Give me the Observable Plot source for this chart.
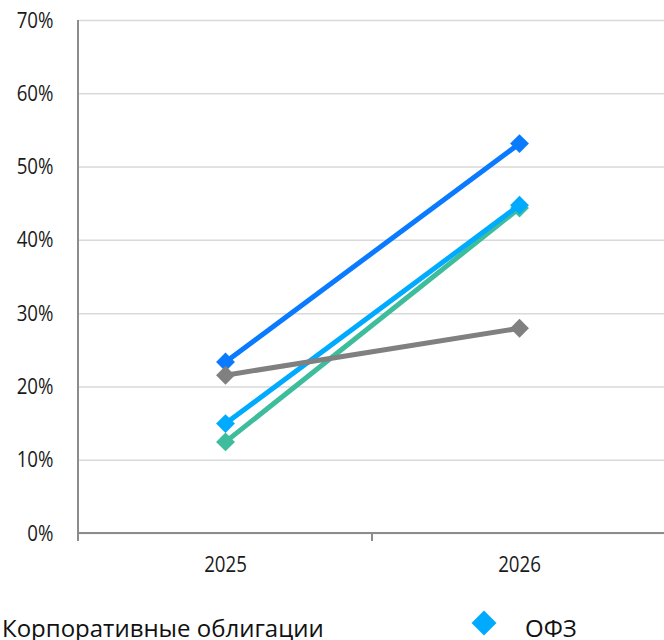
<!DOCTYPE html>
<html>
<head>
<meta charset="utf-8">
<script src="https://cdn.jsdelivr.net/npm/d3@7"></script>
<script src="https://cdn.jsdelivr.net/npm/@observablehq/plot@0.6"></script>
<style>
  html, body { margin: 0; padding: 0; background: #fff; width: 664px; height: 640px; overflow: hidden; }
  #chart, #legend { width: 664px; overflow: hidden; }
  #chart svg, #legend svg { display: block; }
</style>
</head>
<body>
<div id="chart"></div>
<div id="legend"></div>
<script>
// Categories and series (values in percent)
const years = ["2025", "2026"];
const seriesNames = ["Корпоративные облигации", "ОФЗ", "Серия 3", "Серия 4"];
const corpBonds = [12.5, 44.4];
const ofz = [15.0, 44.8];
const series3 = [23.4, 53.2];
const series4 = [21.6, 28.0];
const yTicks = [0, 10, 20, 30, 40, 50, 60, 70];

// Only the first two series appear in the visible legend row
const legendNames = ["Корпоративные облигации", "ОФЗ"];

const seriesColors = ["#3dbd9b", "#00aaff", "#0a7bff", "#808080"];

const seriesValues = [corpBonds, ofz, series3, series4];
const rows = seriesValues.flatMap((vals, i) =>
  years.map((year, j) => ({ series: seriesNames[i], year, value: vals[j] }))
);

const tickFont = '"Open Sans", "Noto Sans", sans-serif';

// Axis lines: left value axis, bottom category axis, and tick marks between categories
function axisLines(index, scales, values, dimensions) {
  const { x, y } = scales;
  const { width, marginLeft, marginRight } = dimensions;
  const y0 = y(0);
  const g = d3.create("svg:g")
    .attr("stroke", "#8c8c8c")
    .attr("stroke-width", 2)
    .attr("fill", "none");
  g.append("line")
    .attr("x1", marginLeft).attr("x2", marginLeft)
    .attr("y1", y(yTicks[yTicks.length - 1])).attr("y2", y0 + 8);
  g.append("line")
    .attr("x1", marginLeft).attr("x2", width - marginRight)
    .attr("y1", y0).attr("y2", y0);
  years.slice(1).forEach(t => {
    g.append("line")
      .attr("x1", x(t)).attr("x2", x(t))
      .attr("y1", y0).attr("y2", y0 + 8);
  });
  return g.node();
}

const seriesMarks = seriesNames.flatMap((name, i) => {
  const data = rows.filter(d => d.series === name);
  return [
    Plot.line(data, { x: "year", y: "value", stroke: seriesColors[i], strokeWidth: 5 }),
    Plot.dot(data, { x: "year", y: "value", symbol: "diamond2", r: 8.5, fill: seriesColors[i], stroke: "none" })
  ];
});

const chart = Plot.plot({
  width: 666,
  height: 600,
  marginTop: 20,
  marginBottom: 67,
  marginLeft: 78,
  marginRight: 0,
  style: { fontFamily: tickFont, fontSize: "22px", color: "#1a1a1a", background: "#fff", maxWidth: "none" },
  x: { type: "band", domain: years, padding: 0, label: null },
  y: { domain: [0, 70], label: null },
  marks: [
    Plot.gridY(yTicks, { stroke: "#d9d9d9", strokeOpacity: 1, strokeWidth: 1.5 }),
    Plot.axisY(yTicks, { tickSize: 0, tickPadding: 25, tickFormat: d => d + "%", fill: "#1a1a1a", label: null }),
    Plot.axisX({ tickSize: 0, tickPadding: 23, fill: "#1a1a1a", label: null }),
    axisLines,
    ...seriesMarks
  ]
});

// Narrow the tick labels horizontally around their anchor points
d3.select(chart).selectAll("g[aria-label$='tick label'] text").each(function () {
  const t = this.getAttribute("transform");
  if (t) {
    this.setAttribute("transform", t + " scale(0.85,1)");
  } else {
    const x = +this.getAttribute("x") || 0, y = +this.getAttribute("y") || 0;
    this.setAttribute("x", 0);
    this.setAttribute("y", 0);
    this.setAttribute("transform", `translate(${x},${y}) scale(0.85,1)`);
  }
});
document.getElementById("chart").append(chart);

// Legend row below the chart
const legendColumn = 523;
const legend = d3.select("#legend").append("svg")
  .attr("width", 664).attr("height", 40)
  .style("font-family", '"Open Sans", "Noto Sans", sans-serif')
  .style("font-size", "24px");
legendNames.forEach((name, i) => {
  const cx = -39 + i * legendColumn;
  const g = legend.append("g");
  g.append("path")
    .attr("d", `M${cx},${23 - 12.5}L${cx + 12.5},23L${cx},${23 + 12.5}L${cx - 12.5},23Z`)
    .attr("fill", seriesColors[i]);
  g.append("text")
    .attr("x", cx + 41)
    .attr("y", 37)
    .attr("fill", "#111")
    .text(name);
});
</script>
</body>
</html>
